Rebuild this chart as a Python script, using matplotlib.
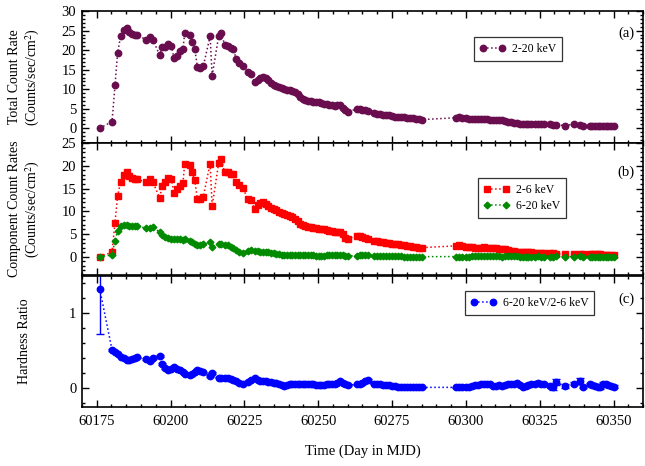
import matplotlib
matplotlib.use("Agg")
import matplotlib.pyplot as plt
from matplotlib.ticker import MultipleLocator

plt.rcParams['font.family'] = ['Liberation Serif', 'DejaVu Serif']
plt.rcParams['mathtext.fontset'] = 'stix'

# time of each observation (MJD)
mjd = [60176.0, 60180.2, 60181.2, 60182.1, 60183.1, 60184.1, 60185.1, 60186.1, 60187.1, 60188.0, 60188.8,
       60191.8, 60192.9, 60194.0,
       60196.3, 60197.2, 60198.3, 60199.2, 60200.3, 60201.2, 60202.1, 60203.3, 60204.2, 60204.8,
       60206.6, 60207.3, 60208.2, 60209.1, 60210.0, 60211.1,
       60213.4, 60214.1,
       60216.3, 60217.2, 60218.3, 60219.4, 60220.6, 60221.3, 60222.2,
       60223.1, 60224.5, 60226.2, 60227.2, 60228.5, 60229.5, 60230.4, 60231.3, 60232.2, 60233.1,
       60234.0, 60234.9, 60235.8, 60236.7, 60237.6, 60238.5, 60239.4, 60240.3, 60241.2, 60242.1,
       60243.0, 60243.9, 60244.8, 60245.7, 60246.6, 60247.5, 60248.4, 60249.3, 60250.2, 60251.1,
       60252.0, 60252.9, 60253.8, 60254.7, 60255.6, 60256.5, 60257.4, 60258.3, 60259.2, 60260.1,
       60263.0, 60264.0, 60265.0, 60266.0, 60267.0,
       60268.9, 60269.9, 60270.9, 60271.9, 60272.9, 60273.9, 60274.9, 60275.9, 60276.9, 60277.9,
       60279.0, 60280.0, 60281.0, 60282.0, 60283.0, 60284.0, 60285.0,
       60296.8, 60297.8, 60298.8, 60300.2, 60301.2, 60302.2, 60303.2, 60304.2, 60305.2, 60306.2,
       60307.2, 60308.2, 60309.2, 60310.2, 60311.2, 60312.2, 60313.2, 60314.2, 60315.2, 60316.2,
       60317.2, 60318.2, 60319.2, 60320.2, 60321.2, 60322.2, 60323.4, 60324.4, 60325.4, 60326.4,
       60328.4, 60329.4, 60330.4, 60333.4, 60336.6, 60338.8, 60339.8, 60341.9, 60342.8, 60343.7,
       60344.6, 60345.5, 60346.4, 60347.3, 60348.2, 60349.1, 60350.0]

# 2-20 keV count rate
total = [0.0, 1.7, 11.1, 19.4, 23.6, 25.1, 25.7, 24.7, 24.1, 23.8, 23.8,
         22.7, 23.4, 22.7,
         18.8, 20.7, 20.9, 21.7, 21.2, 17.9, 18.6, 19.8, 20.2, 24.4,
         23.9, 22.0, 20.3, 15.7, 15.4, 15.9,
         23.6, 13.5,
         23.6, 24.5, 21.4, 21.2, 20.5, 20.4, 17.8,
         16.6, 16.0, 14.3, 13.9, 11.9, 12.4, 12.8, 13.2, 12.9, 12.3,
         11.6, 11.1, 10.8, 10.6, 10.3, 10.0, 9.8, 9.7, 9.5, 9.3,
         8.9, 8.0, 7.5, 7.3, 7.1, 7.0, 6.8, 6.7, 6.7, 6.5,
         6.3, 6.1, 6.0, 5.9, 5.8, 5.9, 6.0, 5.2, 4.6, 4.1,
         5.0, 4.9, 4.8, 4.6, 4.4,
         3.8, 3.7, 3.6, 3.5, 3.4, 3.3, 3.2, 3.0, 2.9, 2.8,
         2.8, 2.7, 2.6, 2.5, 2.4, 2.3, 2.2,
         2.7, 2.8, 2.7, 2.5, 2.4, 2.4, 2.3, 2.3, 2.3, 2.4,
         2.3, 2.2, 2.1, 2.1, 2.0, 2.0, 1.8, 1.6, 1.5, 1.4,
         1.3, 1.2, 1.2, 1.2, 1.2, 1.2, 1.1, 1.1, 1.1, 1.1,
         1.0, 0.9, 0.9, 0.7, 1.0, 0.8, 0.7, 0.6, 0.6, 0.6,
         0.6, 0.6, 0.55, 0.55, 0.5, 0.5, 0.5]

# 2-6 keV count rate
soft = [0.0, 1.0, 7.5, 13.4, 16.5, 18.0, 18.7, 17.8, 17.3, 17.0, 17.0,
        16.4, 17.1, 16.4,
        13.0, 15.6, 16.4, 17.4, 17.0, 14.0, 14.8, 15.6, 16.2, 20.5,
        20.2, 18.6, 16.8, 12.7, 12.7, 13.2,
        20.5, 11.1,
        20.6, 21.6, 18.6, 18.7, 18.3, 18.3, 16.4,
        15.8, 15.1, 12.6, 12.4, 10.5, 11.3, 11.8, 12.0, 11.7, 11.2,
        10.7, 10.4, 10.2, 9.9, 9.6, 9.4, 9.2, 9.0, 8.8, 8.4,
        7.9, 7.3, 7.0, 6.8, 6.6, 6.5, 6.4, 6.3, 6.2, 6.1,
        6.0, 5.8, 5.7, 5.6, 5.5, 5.5, 5.4, 4.9, 4.2, 3.9,
        4.6, 4.5, 4.3, 4.1, 3.9,
        3.5, 3.4, 3.3, 3.2, 3.1, 3.0, 2.9, 2.8, 2.7, 2.6,
        2.5, 2.4, 2.3, 2.2, 2.1, 2.0, 2.0,
        2.4, 2.5, 2.4, 2.2, 2.1, 2.1, 2.0, 2.0, 2.0, 2.1,
        2.0, 1.9, 1.9, 1.9, 1.8, 1.8, 1.6, 1.4, 1.3, 1.2,
        1.1, 1.0, 1.0, 1.0, 1.0, 1.0, 0.9, 0.9, 0.9, 0.8,
        0.8, 0.8, 0.7, 0.5, 0.6, 0.6, 0.5, 0.5, 0.5, 0.5,
        0.5, 0.5, 0.45, 0.45, 0.4, 0.4, 0.4]

# 6-20 keV count rate
hard = [0.0, 0.4, 3.5, 5.7, 6.7, 6.9, 6.9, 6.7, 6.7, 6.7, 6.7,
        6.3, 6.3, 6.6,
        5.4, 4.8, 4.4, 4.1, 3.8, 3.8, 3.8, 3.8, 3.7, 3.8,
        3.4, 3.3, 2.9, 2.6, 2.6, 2.7,
        3.3, 2.2,
        2.9, 2.7, 2.6, 2.5, 2.2, 1.9, 1.5,
        1.0, 0.9, 1.2, 1.4, 1.3, 1.2, 1.1, 1.1, 1.0, 1.0,
        0.9, 0.8, 0.7, 0.6, 0.4, 0.3, 0.35, 0.45, 0.45, 0.42,
        0.45, 0.42, 0.4, 0.35, 0.33, 0.32, 0.32, 0.25, 0.25, 0.24,
        0.24, 0.29, 0.28, 0.28, 0.33, 0.38, 0.48, 0.35, 0.22, 0.16,
        0.25, 0.3, 0.35, 0.4, 0.45,
        0.25, 0.2, 0.18, 0.15, 0.13, 0.12, 0.1, 0.08, 0.07, 0.06,
        0.05, 0.04, 0.03, 0.03, 0.03, 0.02, 0.02,
        0.03, 0.03, 0.03, 0.04, 0.04, 0.06, 0.08, 0.08, 0.1, 0.1,
        0.12, 0.1, 0.06, 0.06, 0.07, 0.05, 0.06, 0.07, 0.08, 0.06,
        0.08, 0.04, 0.02, 0.03, 0.04, 0.05, 0.05, 0.06, 0.05, 0.05,
        0.02, 0.01, 0.06, 0.02, 0.04, 0.06, 0.01, 0.03, 0.02, 0.02,
        0.01, 0.01, 0.03, 0.02, 0.02, 0.01, 0.01]

# hardness ratio (6-20 keV / 2-6 keV) and its error
ratio = [1.33, 0.51, 0.48, 0.45, 0.42, 0.40, 0.38, 0.38, 0.39, 0.40, 0.41,
         0.39, 0.36, 0.40,
         0.43, 0.32, 0.27, 0.24, 0.25, 0.28, 0.26, 0.24, 0.22, 0.19,
         0.17, 0.19, 0.22, 0.24, 0.23, 0.21,
         0.16, 0.20,
         0.14, 0.13, 0.13, 0.13, 0.12, 0.11, 0.09,
         0.07, 0.06, 0.08, 0.11, 0.13, 0.11, 0.09, 0.09, 0.09, 0.08,
         0.08, 0.07, 0.07, 0.06, 0.04, 0.03, 0.04, 0.05, 0.05, 0.05,
         0.06, 0.06, 0.06, 0.05, 0.05, 0.05, 0.05, 0.04, 0.04, 0.04,
         0.04, 0.05, 0.05, 0.05, 0.06, 0.07, 0.09, 0.07, 0.05, 0.04,
         0.05, 0.06, 0.07, 0.09, 0.11,
         0.06, 0.05, 0.05, 0.04, 0.04, 0.04, 0.03, 0.03, 0.02, 0.02,
         0.02, 0.01, 0.01, 0.01, 0.01, 0.01, 0.01,
         0.01, 0.01, 0.01, 0.02, 0.02, 0.03, 0.04, 0.04, 0.05, 0.05,
         0.06, 0.05, 0.03, 0.03, 0.04, 0.03, 0.04, 0.05, 0.06, 0.05,
         0.07, 0.04, 0.02, 0.03, 0.04, 0.05, 0.06, 0.07, 0.05, 0.06,
         0.03, 0.01, 0.08, 0.03, 0.06, 0.10, 0.02, 0.05, 0.04, 0.03,
         0.02, 0.01, 0.06, 0.05, 0.04, 0.03, 0.02]

ratio_err = [0.61] + [0.01] * 130 + [0.02, 0.03, 0.04, 0.03, 0.02, 0.04, 0.02] + [0.02] * 10

fig = plt.figure(figsize=(6.45, 4.66), dpi=100)
L, W = 0.127, 0.870
ax1 = fig.add_axes([L, 0.693, W, 0.283])
ax2 = fig.add_axes([L, 0.410, W, 0.283])
ax3 = fig.add_axes([L, 0.127, W, 0.281])

c_tot = '#6a0d4f'
ax1.plot(mjd, total, ls=':', lw=1.1, color=c_tot, marker='o', ms=4.6, label='2-20 keV')
ax2.plot(mjd, soft, ls=':', lw=1.1, color='#ff0000', marker='s', ms=4.1, label='2-6 keV')
ax2.plot(mjd, hard, ls=':', lw=1.1, color='#008a00', marker='D', ms=3.4, label='6-20 keV')
ax3.errorbar(mjd, ratio, yerr=ratio_err, fmt='none', ecolor='#0000ff', elinewidth=1, capsize=3)
ax3.plot(mjd, ratio, ls=':', lw=1.1, color='#0000ff', marker='o', ms=4.6, label='6-20 keV/2-6 keV')

ax1.set_ylim(-3.8, 30)
ax1.yaxis.set_major_locator(MultipleLocator(5))
ax1.yaxis.set_minor_locator(MultipleLocator(1))
ax2.set_ylim(-4, 25)
ax2.yaxis.set_major_locator(MultipleLocator(5))
ax2.yaxis.set_minor_locator(MultipleLocator(1))
ax3.set_ylim(-0.25, 1.5)
ax3.yaxis.set_major_locator(MultipleLocator(1))
ax3.yaxis.set_minor_locator(MultipleLocator(0.2))

for ax in (ax1, ax2, ax3):
    ax.set_xlim(60170, 60360)
    ax.xaxis.set_major_locator(MultipleLocator(25))
    ax.xaxis.set_minor_locator(MultipleLocator(5))
    ax.tick_params(which='both', direction='in', top=True, right=True, labelsize=10.5, width=1)
    ax.tick_params(which='major', length=5, pad=4)
    ax.tick_params(which='minor', length=2.5)
    ax.tick_params(axis='x', which='major', pad=6)
    for s in ax.spines.values():
        s.set_linewidth(1.2)
ax1.tick_params(labelbottom=False)
ax2.tick_params(labelbottom=False)

ax1.set_ylabel('Total Count Rate\n(Counts/sec/cm$^2$)', fontsize=10, linespacing=1.2)
ax2.set_ylabel('Component Count Rates\n(Counts/sec/cm$^2$)', fontsize=10, linespacing=1.2)
ax3.set_ylabel('Hardness Ratio', fontsize=10)
ax1.yaxis.set_label_coords(-0.071, 0.5)
ax2.yaxis.set_label_coords(-0.071, 0.5)
ax3.yaxis.set_label_coords(-0.091, 0.5)
ax3.set_xlabel('Time (Day in MJD)', fontsize=10.5, labelpad=12)

legkw = dict(fontsize=8.5, frameon=True, fancybox=False, edgecolor='black',
             handlelength=2.2, numpoints=2, borderpad=0.5, labelspacing=0.3,
             handletextpad=0.5, loc='center')
for ax, anchor in ((ax1, (0.777, 0.712)), (ax2, (0.784, 0.583)), (ax3, (0.798, 0.79))):
    leg = ax.legend(bbox_to_anchor=anchor, **legkw)
    leg.get_frame().set_linewidth(0.9)

ax1.text(0.97, 0.833, '(a)', transform=ax1.transAxes, ha='center', va='center', fontsize=10.5)
ax2.text(0.97, 0.78, '(b)', transform=ax2.transAxes, ha='center', va='center', fontsize=10.5)
ax3.text(0.97, 0.825, '(c)', transform=ax3.transAxes, ha='center', va='center', fontsize=10.5)

fig.savefig('out.png', dpi=100)
